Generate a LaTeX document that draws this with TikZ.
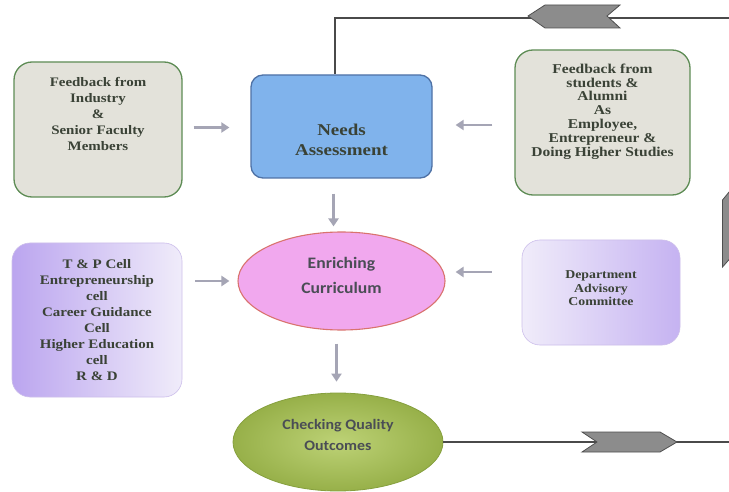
\documentclass[tikz,border=0pt]{standalone}
\usepackage{fontspec}
\setmainfont{Liberation Serif}
\newfontfamily\boxserif[FakeStretch=1.15]{Liberation Serif}
\newfontfamily\boxcal[FakeStretch=1.1]{Carlito}
\usetikzlibrary{shapes.geometric,arrows.meta}
\definecolor{fbfill}{HTML}{E3E2DA}
\definecolor{fbgreen}{HTML}{5E8C55}
\definecolor{ndfill}{HTML}{80B3EC}
\definecolor{nddraw}{HTML}{4F72A6}
\definecolor{purA}{HTML}{BBA5EF}
\definecolor{purB}{HTML}{F0ECFA}
\definecolor{purD}{HTML}{CDBFEB}
\definecolor{pkfill}{HTML}{F1A8EE}
\definecolor{pkdraw}{HTML}{D9736E}
\definecolor{gnA}{HTML}{BDD276}
\definecolor{gnB}{HTML}{97B049}
\definecolor{gndraw}{HTML}{86A03E}
\definecolor{arr}{HTML}{A5A5B5}
\definecolor{lin}{HTML}{4A4A4A}
\definecolor{chevf}{HTML}{8C8C8C}
\definecolor{chevd}{HTML}{4F4F4F}
\definecolor{txt}{HTML}{3A4236}
\definecolor{ctxt}{HTML}{4A4D55}
\begin{document}
\begin{tikzpicture}[x=1pt,y=-1pt,
  fbbox/.style={draw=fbgreen, line width=1.3pt, fill=fbfill, rounded corners=18pt, inner sep=0pt},
  ndbox/.style={draw=nddraw, line width=1.3pt, fill=ndfill, rounded corners=12pt, inner sep=0pt},
  purbox/.style={draw=purD, line width=0.6pt, rounded corners=18pt, inner sep=0pt},
  pkell/.style={ellipse, draw=pkdraw, line width=1.1pt, fill=pkfill, inner sep=0pt},
  gnell/.style={ellipse, draw=gndraw, line width=0.8pt, inner color=gnA, outer color=gnB, inner sep=0pt},
  sertxt/.style={align=center, text=txt, inner sep=0pt, font=\boxserif\bfseries\fontsize{13}{16}\selectfont},
  caltxt/.style={align=center, text=ctxt, inner sep=0pt, font=\boxcal\bfseries\fontsize{16}{25}\selectfont},
  garrow/.style={draw=arr, line width=2.6pt, -{Triangle[length=8pt,width=10pt]}},
  loopline/.style={draw=lin, line width=1.3pt},
  chev/.style={fill=chevf, draw=chevd, line width=0.8pt, line join=miter}]
\useasboundingbox (0,0) rectangle (729,492);
\clip (0,0) rectangle (729,492);
\fill[white] (0,0) rectangle (729,492);

% boxes
\node[fbbox, minimum width=168pt, minimum height=135pt] (fbi) at (98,129.5) {};
\node[ndbox, minimum width=181pt, minimum height=103pt] (needs) at (341.5,126.5) {};
\node[fbbox, minimum width=175pt, minimum height=145pt] (fbs) at (602.5,122.5) {};
\node[purbox, minimum width=170pt, minimum height=154pt, left color=purA, right color=purB] (tp) at (97,320) {};
\node[pkell, minimum width=207pt, minimum height=98pt] (enr) at (341.5,281) {};
\node[purbox, minimum width=158pt, minimum height=105pt, left color=purB, right color=purA!85] (dac) at (601,292.5) {};
\node[gnell, minimum width=210pt, minimum height=98pt] (chk) at (338,442) {};

% texts
\node[sertxt] (fbiT) at ([yshift=16pt]fbi.center) {Feedback from\\Industry\\\&\\Senior Faculty\\Members};
\node[sertxt, font=\boxserif\bfseries\fontsize{16.5}{20}\selectfont] (needsT) at ([yshift=-13pt]needs.center) {Needs\\Assessment};
\node[sertxt, font=\boxserif\bfseries\fontsize{13.5}{13.8}\selectfont] (fbsT) at ([yshift=11pt]fbs.center) {Feedback from\\students \&\\Alumni\\As\\Employee,\\Entrepreneur \&\\Doing Higher Studies};
\node[sertxt] (tpT) at (tp.center) {T \& P Cell\\Entrepreneurship\\cell\\Career Guidance\\Cell\\Higher Education\\cell\\R \& D};
\node[sertxt, font=\boxserif\bfseries\fontsize{12}{13.5}\selectfont] (dacT) at ([yshift=4pt]dac.center) {Department\\Advisory\\Committee};
\node[caltxt] (enrT) at ([yshift=6pt]enr.center) {Enriching\\Curriculum};
\node[caltxt, font=\boxcal\bfseries\fontsize{14.5}{21}\selectfont] (chkT) at ([yshift=7pt]chk.center) {Checking Quality\\Outcomes};

% short gray arrows
\draw[garrow, shorten <=11pt, shorten >=21pt] ([yshift=2pt]fbi.east) -- ([yshift=2pt]fbi.east -| needs.west);
\draw[garrow, shorten <=22pt, shorten >=23pt] ([yshift=-2.5pt]fbs.west) -- ([yshift=-2.5pt]fbs.west -| needs.east);
\draw[garrow, shorten <=15pt, shorten >=5pt] ([xshift=-8pt]needs.south) -- ([xshift=-8pt]needs.south |- enr.north);
\draw[garrow, shorten <=13pt, shorten >=8pt] (tp.east |- enr.west) -- (enr.west);
\draw[garrow, shorten <=30pt, shorten >=10pt] ([yshift=20.5pt]dac.west) -- ([yshift=20.5pt]dac.west -| enr.east);
\draw[garrow, shorten <=13pt, shorten >=11pt] ([xshift=-5pt]enr.south) -- ([xshift=-5pt]enr.south |- chk.north);

% feedback loop
\coordinate (rc) at (734,18);
\draw[loopline] (chk.east) -| (rc) -| ([xshift=-6.5pt]needs.north);

% chevrons on the loop
\filldraw[chev] (528,16) -- (545,5) -- (620,5) -- (607,16) -- (620,28) -- (545,28) -- cycle;
\filldraw[chev] (582,432) -- (660,432) -- (677,442) -- (660,452) -- (582,452) -- (597,442) -- cycle;
\filldraw[chev] (734,186) -- (745.5,200) -- (745.5,267) -- (734,254) -- (722.5,267) -- (722.5,200) -- cycle;
\end{tikzpicture}
\end{document}
